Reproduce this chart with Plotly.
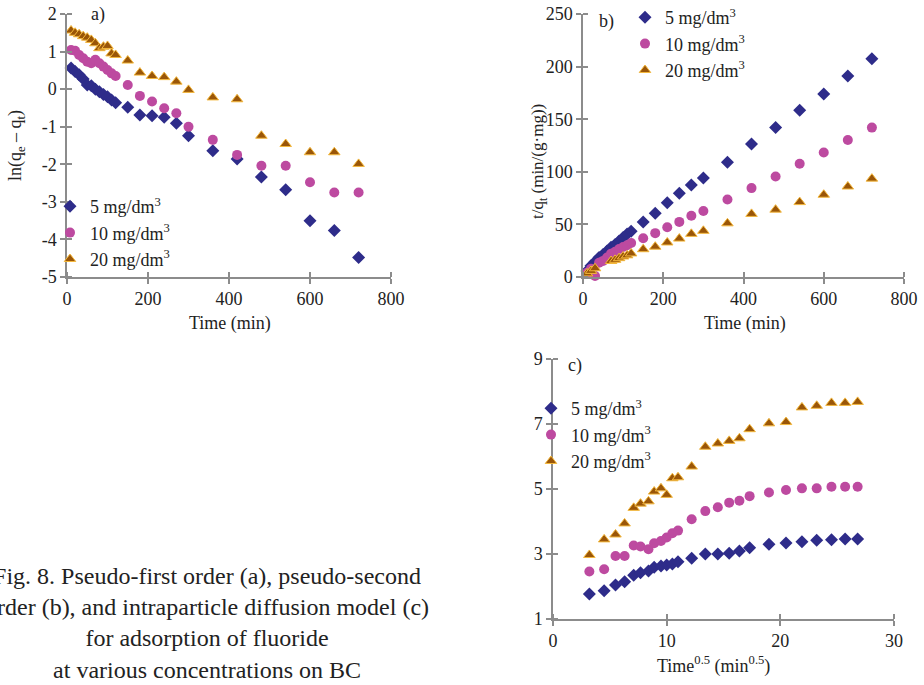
import plotly.graph_objects as go

# ---------------- data ----------------
time_min = [10, 20, 30, 40, 50, 60, 70, 80, 90, 100, 110, 120,
            150, 180, 210, 240, 270, 300, 360, 420, 480, 540, 600, 660, 720]
time_sqrt = [3.2, 4.5, 5.5, 6.3, 7.1, 7.7, 8.4, 8.9, 9.5, 10.0, 10.5, 11.0,
             12.2, 13.4, 14.5, 15.5, 16.4, 17.3, 19.0, 20.5, 21.9, 23.2, 24.5, 25.7, 26.8]

series_names = ["5 mg/dm<sup>3</sup>", "10 mg/dm<sup>3</sup>", "20 mg/dm<sup>3</sup>"]

# (a) pseudo-first order: ln(qe - qt)
a_5 = [0.56, 0.47, 0.38, 0.27, 0.11, 0.09, 0.0, -0.07, -0.14, -0.2, -0.29, -0.36,
       -0.48, -0.69, -0.71, -0.75, -0.91, -1.24, -1.64, -1.86, -2.34, -2.68, -3.5, -3.76, -4.48]
a_10 = [1.04, 1.02, 0.91, 0.82, 0.73, 0.69, 0.78, 0.69, 0.6, 0.51, 0.42, 0.35,
        0.11, -0.18, -0.33, -0.51, -0.64, -1.0, -1.35, -1.75, -2.04, -2.04, -2.48, -2.75, -2.75]
a_20 = [1.56, 1.5, 1.46, 1.41, 1.37, 1.31, 1.22, 1.09, 1.13, 1.15, 0.95, 0.91,
        0.76, 0.44, 0.35, 0.32, 0.2, -0.02, -0.22, -0.27, -1.24, -1.46, -1.68, -1.68, -1.99]

# (b) pseudo-second order: t/qt
b_5 = [5.6, 10.7, 14.6, 18.6, 21.3, 24.8, 28.2, 30.9, 34.2, 37.6, 40.9, 43.5,
       52.3, 60.5, 70.5, 79.5, 87.5, 94, 109, 126.5, 142, 158.5, 174, 191, 207.5]
b_10 = [4.1, 7.9, 1.0, 13.6, 15.3, 18.6, 22.2, 24.0, 26.5, 28.5, 30.2, 32.3,
        36.9, 41.7, 47.3, 52.4, 58.2, 62.8, 73.6, 84.5, 95.6, 107.6, 118.3, 130.2, 142]
b_20 = [3.4, 5.8, 8.3, -3.0, -5.0, -3.5, 15.2, 16.3, 17.9, 19.5, 20.6, 22.4,
        26.4, 28.8, 32.8, 36.5, 41, 43.9, 51, 60, 64, 71.2, 78.2, 86, 93.5]

# (c) intraparticle diffusion: qt
c_5 = [1.77, 1.87, 2.05, 2.15, 2.35, 2.42, 2.48, 2.59, 2.63, 2.66, 2.69, 2.76,
       2.87, 3.0, 3.0, 3.02, 3.09, 3.19, 3.30, 3.34, 3.38, 3.42, 3.44, 3.46, 3.46]
c_10 = [2.46, 2.53, 2.94, 2.94, 3.26, 3.23, 3.15, 3.33, 3.40, 3.51, 3.64, 3.72,
        4.07, 4.32, 4.44, 4.58, 4.64, 4.78, 4.89, 4.97, 5.02, 5.02, 5.07, 5.07, 5.07]
c_20 = [2.97, 3.45, 3.6, 3.94, 4.42, 4.55, 4.62, 4.92, 5.02, 4.82, 5.33, 5.36,
        5.69, 6.3, 6.4, 6.48, 6.56, 6.84, 7.02, 7.06, 7.51, 7.56, 7.65, 7.65, 7.68]

a_ticks = [-5, -4, -3, -2, -1, 0, 1, 2]
a_ticktext = ["-5", "-4", "-3", "-2", "-1", "0", "1", "2"]
time_ticks = [0, 200, 400, 600, 800]
b_yticks = [0, 50, 100, 150, 200, 250]
c_xticks = [0, 10, 20, 30]
c_yticks = [1, 3, 5, 7, 9]

# ---------------- styling ----------------
W, H = 924, 685
FONT = "Liberation Serif"
AX = "#8c8c8c"

def fx(p):
    return p / W

def fy(p):
    return 1 - p / H

markers = [
    dict(symbol="diamond", size=10, color="#2E2C8A", line=dict(width=0)),
    dict(symbol="circle", size=10, color="#BD4AA0", line=dict(width=0)),
    dict(symbol="triangle-up", size=10, color="#9A5608", line=dict(width=1, color="#F4B83C")),
]

fig = go.Figure()

panels = [
    ("x", "y", "legend", time_min, [a_5, a_10, a_20]),
    ("x2", "y2", "legend2", time_min, [b_5, b_10, b_20]),
    ("x3", "y3", "legend3", time_sqrt, [c_5, c_10, c_20]),
]
for xa, ya, lg, xs, ys_list in panels:
    for name, ys, mk in zip(series_names, ys_list, markers):
        fig.add_trace(go.Scatter(
            x=xs, y=ys, mode="markers", name=name, marker=mk,
            xaxis=xa, yaxis=ya, legend=lg, cliponaxis=False,
            showlegend=True,
        ))

def axis(tickvals, **kw):
    d = dict(showline=True, linecolor=AX, linewidth=1.5, ticks="outside",
             tickcolor=AX, ticklen=5, tickwidth=1.5, showgrid=False,
             zeroline=False, tickfont=dict(family=FONT, size=18, color="#222"),
             fixedrange=True, automargin=False, tickvals=tickvals,
             minor=dict(tickvals=tickvals, ticks="inside", ticklen=5,
                        tickcolor=AX, tickwidth=1.5, showgrid=False))
    d.update(kw)
    return d

def legend_box(x, y):
    return dict(x=fx(x), y=fy(y), xanchor="left", yanchor="top",
                bgcolor="rgba(0,0,0,0)", borderwidth=0,
                font=dict(family=FONT, size=18, color="#222"),
                tracegroupgap=0)

fig.update_layout(
    width=W, height=H,
    margin=dict(l=0, r=0, t=0, b=0, autoexpand=False),
    paper_bgcolor="white", plot_bgcolor="white",
    font=dict(family=FONT, size=18, color="#222"),
    xaxis=axis(time_ticks, domain=[fx(67), fx(391)], range=[0, 800], anchor="y"),
    yaxis=axis(a_ticks, domain=[fy(277), fy(14)], range=[-5, 2],
               ticktext=a_ticktext, anchor="x"),
    xaxis2=axis(time_ticks, domain=[fx(583), fx(904)], range=[0, 800], anchor="y2"),
    yaxis2=axis(b_yticks, domain=[fy(277), fy(14)], range=[0, 250], anchor="x2"),
    xaxis3=axis(c_xticks, domain=[fx(553), fx(894)], range=[0, 30], anchor="y3"),
    yaxis3=axis(c_yticks, domain=[fy(619), fy(359)], range=[1, 9], anchor="x3"),
    legend=legend_box(50, 188),
    legend2=legend_box(625, -1),
    legend3=legend_box(531, 390),
)

def note(text, x, y, size=18, angle=0, xanchor="center", yanchor="middle", align="center"):
    fig.add_annotation(text=text, x=fx(x), y=fy(y), xref="paper", yref="paper",
                       showarrow=False, textangle=angle, xanchor=xanchor, yanchor=yanchor,
                       align=align, font=dict(family=FONT, size=size, color="#222"))

note("a)", 98, 15)
note("b)", 606, 21)
note("c)", 575, 365)
note("ln(q<sub>e</sub> \u2013 q<sub>t</sub>)", 16, 146, angle=-90)
note("Time (min)", 230, 323)
note("t/q<sub>t</sub> (min/(g\u00b7mg))", 539, 162, angle=-90, size=17)
note("Time (min)", 745, 323)
note("Time<sup>0.5</sup> (min<sup>0.5</sup>)", 713, 665)
note("Fig. 8. Pseudo-first order (a), pseudo-second<br>"
     "order (b), and intraparticle diffusion model (c)<br>"
     "for adsorption of fluoride<br>"
     "at various concentrations on BC", 207, 623, size=24)

fig.write_html("out.html", config={"displayModeBar": False},
               post_script="document.body.style.margin='0px';")
